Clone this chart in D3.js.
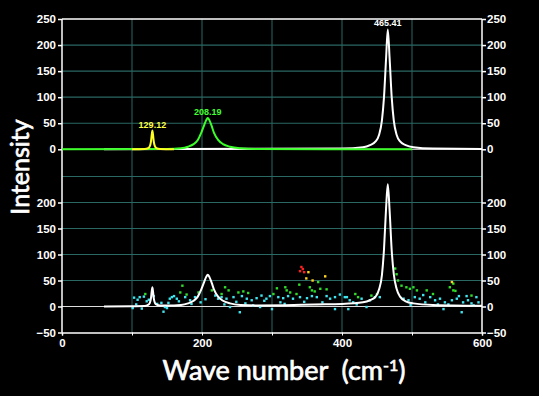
<!DOCTYPE html>
<html>
<head>
<meta charset="utf-8">
<script src="https://cdn.jsdelivr.net/npm/d3@7"></script>
<style>
  body { margin: 0; background: #000; }
  .tick text { font-family: "Liberation Sans", Arial, sans-serif; font-weight: bold; font-size: 11.5px; fill: #fff; }
  .tick line { stroke: #fff; }
</style>
</head>
<body>
<div id="chart"></div>
<script>
// DATA ------------------------------
const peakCenters = [129.12, 208.19, 465.41];
const peakHeights = [36, 60, 230];
const peakLabels = ["129.12", "208.19", "465.41"];

// fitted components (top panel)
const yellowPeak = [[100,0],[118,0.5],[123,2],[125.5,6],[127,14],[128.2,28],[129.12,36],[130,28],[131.2,14],[132.7,6],[135,2],[140,0.5],[160,0]];
const greenPeak = [[0,0],[150,0.5],[170,2],[180,5],[188,10],[194,18],[199,32],[203,46],[206,56],[208.19,60],[210.5,56],[213.5,46],[217,32],[223,18],[230,10],[240,5],[255,2],[280,0.5],[500,0]];
const whitePeak = [[60,0],[400,1.5],[430,4],[440,8],[448,15],[453,28],[457,55],[460,100],[463,175],[465.41,230],[468,175],[471,100],[474,55],[478,28],[483,15],[491,8],[502,4],[530,1.5],[600,0.8]];

// total fit (bottom panel)
const fitCurve = [[60,0],[100,0.5],[118,1],[123,3],[125.5,7],[127,15],[128.2,29],[129.12,37],[130,29],[131.2,15],[132.7,7],[135,3.5],[140,2],[150,2],[170,3],[180,6],[188,11],[194,19],[199,33],[203,47],[206,57],[208.19,61],[210.5,57],[213.5,47],[217,33],[223,19],[230,11],[240,6],[255,3],[280,2],[320,2.5],[360,4],[400,5],[430,8],[440,12],[448,19],[453,33],[457,60],[460,110],[463,190],[465.41,235],[468,185],[471,108],[474,62],[478,34],[483,19],[491,10],[502,6],[530,3],[600,1.5]];

// measured points, grouped by the colour they are shown in
const cyanPts = [[103,17],[108,13],[111,18],[101,-3],[121,10],[114,-4],[124,13],[142,7],[145,-10],[147,-1],[150,-3],[152,7],[154,15],[157,18],[160,20],[164,15],[176,18],[183,12],[185,5],[190,18],[219,21],[223,15],[228,18],[235,15],[245,18],[257,20],[264,15],[271,12],[278,16],[285,21],[292,15],[297,20],[309,18],[316,16],[323,20],[330,15],[340,18],[350,16],[357,20],[364,18],[383,15],[390,18],[397,23],[404,18],[254,-11],[300,-5],[283,-1],[390,-5],[273,2],[240,-1],[407,18],[411,12],[409,-5],[416,8],[428,15],[435,-1],[440,12],[447,18],[454,18],[488,15],[495,12],[504,18],[511,15],[519,8],[526,18],[533,12],[540,15],[545,-5],[547,8],[557,12],[564,15],[571,-11],[573,8],[580,12],[588,2],[592,18],[595,8],[131,20],[136,5],[198,8],[232,4],[262,6],[318,5],[372,8],[498,3],[552,4],[578,20],[106,4],[117,19],[167,10],[205,14],[249,9],[289,11],[312,8],[346,9],[378,20],[421,4],[516,22],[537,4],[567,20],[585,6]];
const greenPts = [[119,24],[169,27],[172,40],[178,23],[195,27],[214,31],[228,24],[233,37],[238,31],[252,27],[259,29],[266,26],[302,24],[307,35],[319,37],[321,31],[326,27],[335,24],[339,42],[354,37],[357,31],[361,29],[366,47],[369,34],[378,33],[419,24],[423,18],[442,21],[450,24],[476,73],[478,62],[480,50],[485,40],[492,37],[497,34],[502,37],[507,31],[521,31],[530,24],[554,37],[559,31],[585,21],[559,44],[562,30]];
const yellowPts = [[352,66],[349,54],[358,50],[376,58],[557,47]];
const redPts = [[340,68],[342,76],[344,72],[346,66]];

const xTicks = [0, 100, 200, 300, 400, 500, 600];
const topTicks = [0, 50, 100, 150, 200, 250];
const botTicks = [-50, 0, 50, 100, 150, 200];

// CHART ------------------------------
const W = 539, H = 396;
const svg = d3.select("#chart").append("svg")
    .attr("width", W).attr("height", H)
    .style("background", "#000");

const x = d3.scaleLinear().domain([0, 600]).range([62, 482]);
const yTop = d3.scaleLinear().domain([0, 250]).range([149.3, 19]);
const yBot = d3.scaleLinear().domain([-50, 250]).range([332.5, 176.5]);

const grid = "#2a6863";

// vertical grid
svg.append("g").selectAll("line")
    .data([100, 200, 300, 400, 500])
    .join("line")
    .attr("x1", d => x(d)).attr("x2", d => x(d))
    .attr("y1", yTop(250)).attr("y2", yBot(-50))
    .attr("stroke", grid).attr("stroke-width", 1);

// horizontal grid, top panel
svg.append("g").selectAll("line")
    .data([50, 100, 150, 200])
    .join("line")
    .attr("x1", x(0)).attr("x2", x(600))
    .attr("y1", d => yTop(d)).attr("y2", d => yTop(d))
    .attr("stroke", grid).attr("stroke-width", 1.2);

// horizontal grid, bottom panel
svg.append("g").selectAll("line")
    .data([50, 100, 150, 200, 250])
    .join("line")
    .attr("x1", x(0)).attr("x2", x(600))
    .attr("y1", d => yBot(d)).attr("y2", d => yBot(d))
    .attr("stroke", grid).attr("stroke-width", 1.2);

// zero lines
svg.append("line").attr("x1", x(0)).attr("x2", x(600))
    .attr("y1", yTop(0)).attr("y2", yTop(0)).attr("stroke", "#ddd");
svg.append("line").attr("x1", x(0)).attr("x2", x(600))
    .attr("y1", yBot(0)).attr("y2", yBot(0)).attr("stroke", "#ddd");

// frame
const frame = svg.append("g").attr("stroke", "#fff").attr("stroke-width", 1.5);
frame.append("line").attr("x1", x(0)).attr("x2", x(600)).attr("y1", yTop(250)).attr("y2", yTop(250));
frame.append("line").attr("x1", x(0)).attr("x2", x(0)).attr("y1", yTop(250)).attr("y2", yBot(-50));
frame.append("line").attr("x1", x(600)).attr("x2", x(600)).attr("y1", yTop(250)).attr("y2", yBot(-50));

// axes
function styleAxis(g) {
    g.select(".domain").remove();
    g.selectAll(".tick line").attr("stroke", "#fff").attr("stroke-width", 1.5);
}
svg.append("g").attr("transform", `translate(${x(0)},0)`)
    .call(d3.axisLeft(yTop).tickValues(topTicks).tickSize(4).tickPadding(2)).call(styleAxis);
svg.append("g").attr("transform", `translate(${x(600)},0)`)
    .call(d3.axisRight(yTop).tickValues(topTicks).tickSize(4).tickPadding(1)).call(styleAxis);
svg.append("g").attr("transform", `translate(${x(0)},0)`)
    .call(d3.axisLeft(yBot).tickValues(botTicks).tickSize(4).tickPadding(2)).call(styleAxis);
svg.append("g").attr("transform", `translate(${x(600)},0)`)
    .call(d3.axisRight(yBot).tickValues(botTicks).tickSize(4).tickPadding(1)).call(styleAxis);

const xAxisG = svg.append("g").attr("transform", `translate(0,${yBot(-50)})`)
    .call(d3.axisBottom(x).tickValues(xTicks).tickSize(3).tickPadding(3)
        .tickFormat(d => d % 200 === 0 ? d : ""));
xAxisG.select(".domain").attr("stroke", "#fff").attr("stroke-width", 1.5);
xAxisG.selectAll(".tick line").attr("stroke", "#bbb");

// curves
const lineTop = d3.line().x(d => x(d[0])).y(d => yTop(d[1])).curve(d3.curveMonotoneX);
const lineBot = d3.line().x(d => x(d[0])).y(d => yBot(d[1])).curve(d3.curveMonotoneX);

svg.append("path").datum(whitePeak).attr("d", lineTop)
    .attr("fill", "none").attr("stroke", "#fff").attr("stroke-width", 2);
svg.append("path").datum(greenPeak).attr("d", lineTop)
    .attr("fill", "none").attr("stroke", "#3cff2a").attr("stroke-width", 2);
svg.append("path").datum(yellowPeak).attr("d", lineTop)
    .attr("fill", "none").attr("stroke", "#ffff22").attr("stroke-width", 2);

// peak labels
const labelColors = ["#ffff44", "#44ff33", "#ffffff"];
svg.append("g").selectAll("text")
    .data(peakCenters)
    .join("text")
    .attr("x", d => x(d))
    .attr("y", (d, i) => yTop(peakHeights[i]) - 3)
    .attr("text-anchor", "middle")
    .attr("font-family", "Liberation Sans, Arial, sans-serif")
    .attr("font-weight", "bold")
    .attr("font-size", 9)
    .attr("fill", (d, i) => labelColors[i])
    .text((d, i) => peakLabels[i]);

// points
function drawPts(pts, color) {
    svg.append("g").selectAll("rect")
        .data(pts)
        .join("rect")
        .attr("x", d => x(d[0]) - 1.2)
        .attr("y", d => yBot(d[1]) - 1.2)
        .attr("width", 2.4).attr("height", 2.4)
        .attr("fill", color);
}
drawPts(cyanPts, "#3fe3ee");
drawPts(greenPts, "#2fdc2a");
drawPts(yellowPts, "#ffd21e");
drawPts(redPts, "#ff2020");

svg.append("path").datum(fitCurve).attr("d", lineBot)
    .attr("fill", "none").attr("stroke", "#fff").attr("stroke-width", 2);

// titles
svg.append("text")
    .attr("transform", "translate(29,167) rotate(-90)")
    .attr("text-anchor", "middle")
    .attr("font-family", "Lato, 'Open Sans', sans-serif")
    .attr("font-size", 25)
    .attr("fill", "#fff")
    .attr("stroke", "#fff").attr("stroke-width", 0.7)
    .text("Intensity");

const xt = svg.append("text")
    .attr("x", 284).attr("y", 380)
    .attr("text-anchor", "middle")
    .attr("font-family", "Lato, 'Open Sans', sans-serif")
    .attr("font-size", 27)
    .attr("fill", "#fff")
    .attr("stroke", "#fff").attr("stroke-width", 0.7)
    .style("white-space", "pre");
xt.append("tspan").text("Wave number  (cm");
xt.append("tspan").attr("dy", -9).attr("font-size", 16).text("-1");
xt.append("tspan").attr("dy", 9).text(")");
</script>
</body>
</html>
